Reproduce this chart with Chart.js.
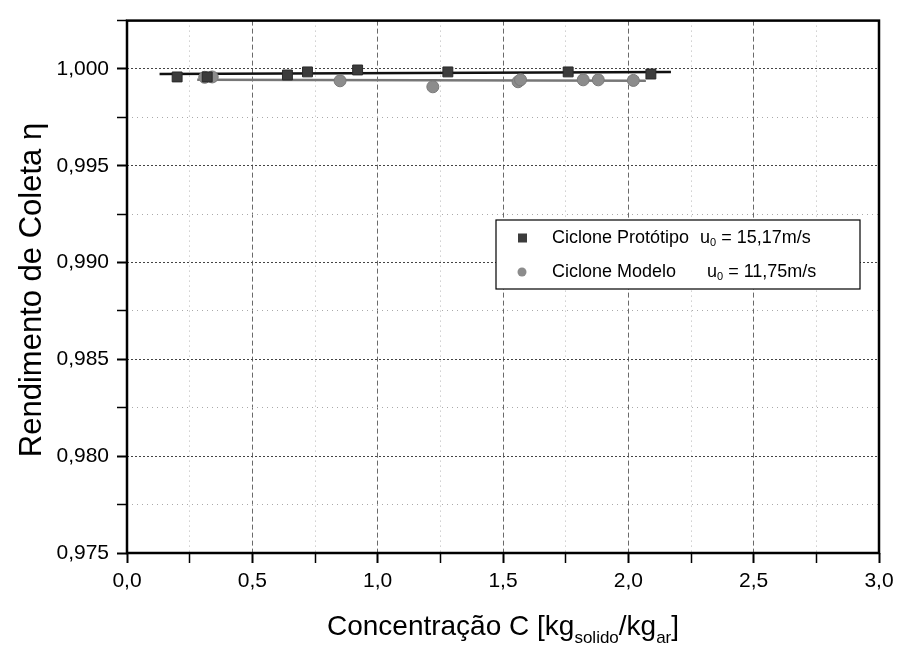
<!DOCTYPE html>
<html>
<head>
<meta charset="utf-8">
<script src="https://cdn.jsdelivr.net/npm/chart.js@4.4.1/dist/chart.umd.min.js"></script>
<style>
    html, body { margin: 0; padding: 0; background: #fff; }
    #wrap { width: 900px; height: 647px; }
</style>
</head>
<body>
<div id="wrap"><canvas id="chart" width="900" height="647"></canvas></div>
<script>
// Ciclone Protótipo (squares) and Ciclone Modelo (circles)
const protoX = [0.20, 0.32, 0.64, 0.72, 0.92, 1.28, 1.76, 2.09];
const protoY = [0.99959, 0.99959, 0.99969, 0.99985, 0.99995, 0.99985, 0.99985, 0.99974];
const modelX = [0.31, 0.34, 0.85, 1.22, 1.56, 1.57, 1.82, 1.88, 2.02];
const modelY = [0.99957, 0.99959, 0.99939, 0.99908, 0.99934, 0.99944, 0.99944, 0.99944, 0.99941];

// fitted lines (end points)
const protoFitX = [0.13, 2.17];
const protoFitY = [0.99974, 0.99985];
const modelFitX = [0.28, 2.07];
const modelFitY = [0.99944, 0.99939];

// axis ticks
const xMajorTicks = [0.0, 0.5, 1.0, 1.5, 2.0, 2.5, 3.0];
const xMinorTicks = [0.25, 0.75, 1.25, 1.75, 2.25, 2.75];
const yMajorTicks = [0.975, 0.980, 0.985, 0.990, 0.995, 1.000];
const yMinorTicks = [0.9775, 0.9825, 0.9875, 0.9925, 0.9975, 1.0025];

const legendLabels = ['Ciclone Protótipo', 'Ciclone Modelo'];
const legendSpeeds = ['= 15,17m/s', '= 11,75m/s'];

const FONT = '"Liberation Sans", Arial, sans-serif';

const toPoints = (xs, ys) => xs.map((x, i) => ({ x: x, y: ys[i] }));
const isMajor = (list, v) => list.some(m => Math.abs(m - v) < 1e-7);

// frame around the plot area
const framePlugin = {
    id: 'frame',
    afterDatasetsDraw(chart) {
        const { ctx, chartArea: a } = chart;
        ctx.save();
        ctx.strokeStyle = '#000';
        ctx.lineWidth = 2.5;
        ctx.strokeRect(a.left, a.top, a.right - a.left, a.bottom - a.top);
        ctx.restore();
    }
};

// draws text pieces, some as subscripts
function drawRich(ctx, parts, x, y, size) {
    let cx = x;
    parts.forEach(p => {
        const s = p.sub ? Math.round(size * 0.6) : size;
        ctx.font = s + 'px ' + FONT;
        ctx.fillText(p.t, cx, p.sub ? y + size * 0.28 : y);
        cx += ctx.measureText(p.t).width;
    });
    return cx;
}

function richWidth(ctx, parts, size) {
    let w = 0;
    parts.forEach(p => {
        ctx.font = (p.sub ? Math.round(size * 0.6) : size) + 'px ' + FONT;
        w += ctx.measureText(p.t).width;
    });
    return w;
}

// axis titles (x title needs subscripts)
const titlePlugin = {
    id: 'titles',
    afterDraw(chart) {
        const { ctx, chartArea: a } = chart;
        ctx.save();
        ctx.fillStyle = '#000';
        ctx.textBaseline = 'alphabetic';
        ctx.textAlign = 'left';

        const size = 28;
        const xParts = [
            { t: 'Concentração C [kg' },
            { t: 'solido', sub: true },
            { t: '/kg' },
            { t: 'ar', sub: true },
            { t: ']' }
        ];
        const w = richWidth(ctx, xParts, size);
        drawRich(ctx, xParts, (a.left + a.right) / 2 - w / 2, 635, size);

        ctx.translate(41, 290);
        ctx.rotate(-Math.PI / 2);
        ctx.textAlign = 'center';
        ctx.font = '31px ' + FONT;
        ctx.fillText('Rendimento de Coleta η', 0, 0);
        ctx.restore();
    }
};

// legend box
const legendPlugin = {
    id: 'legendBox',
    afterDraw(chart) {
        const { ctx } = chart;
        const box = { x: 496, y: 220, w: 364, h: 69 };
        ctx.save();
        ctx.fillStyle = '#fff';
        ctx.fillRect(box.x, box.y, box.w, box.h);
        ctx.strokeStyle = '#000';
        ctx.lineWidth = 1.2;
        ctx.strokeRect(box.x, box.y, box.w, box.h);

        const rows = [238, 272];
        const size = 18;
        ctx.textBaseline = 'middle';
        ctx.textAlign = 'left';
        rows.forEach((ry, i) => {
            const ds = chart.data.datasets[i];
            ctx.fillStyle = ds.backgroundColor;
            if (i === 0) {
                ctx.fillRect(518, ry - 4.5, 9, 9);
            } else {
                ctx.beginPath();
                ctx.arc(522, ry, 4.5, 0, Math.PI * 2);
                ctx.fill();
            }
            ctx.fillStyle = '#000';
            ctx.font = size + 'px ' + FONT;
            ctx.fillText(legendLabels[i], 552, ry);
            const ux = i === 0 ? 700 : 707;
            drawRich(ctx, [{ t: 'u' }, { t: '0', sub: true }, { t: ' ' + legendSpeeds[i] }], ux, ry, size);
        });
        ctx.restore();
    }
};

const ctx = document.getElementById('chart').getContext('2d');
new Chart(ctx, {
    type: 'scatter',
    data: {
        datasets: [
            {
                label: 'Ciclone Protótipo',
                data: toPoints(protoX, protoY),
                pointStyle: 'rect',
                pointRadius: 7,
                backgroundColor: '#3c3c3c',
                borderColor: '#2a2a2a',
                borderWidth: 1,
                order: 1
            },
            {
                label: 'Ciclone Modelo',
                data: toPoints(modelX, modelY),
                pointStyle: 'circle',
                pointRadius: 6,
                backgroundColor: '#8c8c8c',
                borderColor: '#7a7a7a',
                borderWidth: 1,
                order: 2
            },
            {
                label: 'fit proto',
                data: toPoints(protoFitX, protoFitY),
                showLine: true,
                borderColor: '#111',
                borderWidth: 2.5,
                pointRadius: 0,
                order: 3
            },
            {
                label: 'fit modelo',
                data: toPoints(modelFitX, modelFitY),
                showLine: true,
                borderColor: '#777',
                borderWidth: 2.5,
                pointRadius: 0,
                order: 4
            }
        ]
    },
    options: {
        responsive: false,
        animation: false,
        layout: { padding: { top: 13, right: 21, left: 0, bottom: 0 } },
        plugins: {
            legend: { display: false },
            tooltip: { enabled: false }
        },
        scales: {
            x: {
                type: 'linear',
                min: 0,
                max: 3,
                afterFit: (scale) => { scale.height = 94; },
                afterBuildTicks: (scale) => {
                    scale.ticks = xMajorTicks.concat(xMinorTicks).sort((a, b) => a - b).map(v => ({ value: v }));
                },
                ticks: {
                    autoSkip: false,
                    maxRotation: 0,
                    padding: 6,
                    color: '#000',
                    font: { family: FONT, size: 21 },
                    callback: (v) => isMajor(xMajorTicks, v) ? v.toFixed(1).replace('.', ',') : ''
                },
                grid: {
                    color: (c) => isMajor(xMajorTicks, c.tick.value) ? '#6a6a6a' : '#b5b5b5',
                    lineWidth: 1,
                    tickLength: 10,
                    tickColor: '#000',
                    tickWidth: (c) => isMajor(xMajorTicks, c.tick.value) ? 2 : 1.5,
                    tickBorderDash: []
                },
                border: {
                    display: false,
                    dash: (c) => isMajor(xMajorTicks, c.tick.value) ? [5, 3] : [1, 4]
                }
            },
            y: {
                type: 'linear',
                min: 0.975,
                max: 1.0025,
                afterFit: (scale) => { scale.width = 127; },
                afterBuildTicks: (scale) => {
                    scale.ticks = yMajorTicks.concat(yMinorTicks).sort((a, b) => a - b).map(v => ({ value: v }));
                },
                ticks: {
                    autoSkip: false,
                    padding: 8,
                    color: '#000',
                    font: { family: FONT, size: 21 },
                    callback: (v) => isMajor(yMajorTicks, v) ? v.toFixed(3).replace('.', ',') : ''
                },
                grid: {
                    color: (c) => isMajor(yMajorTicks, c.tick.value) ? '#444' : '#aaa',
                    lineWidth: 1,
                    tickLength: 10,
                    tickColor: '#000',
                    tickWidth: (c) => isMajor(yMajorTicks, c.tick.value) ? 2 : 1.5,
                    tickBorderDash: []
                },
                border: {
                    display: false,
                    dash: (c) => isMajor(yMajorTicks, c.tick.value) ? [2, 2] : [1, 4]
                }
            }
        }
    },
    plugins: [framePlugin, titlePlugin, legendPlugin]
});
</script>
</body>
</html>
